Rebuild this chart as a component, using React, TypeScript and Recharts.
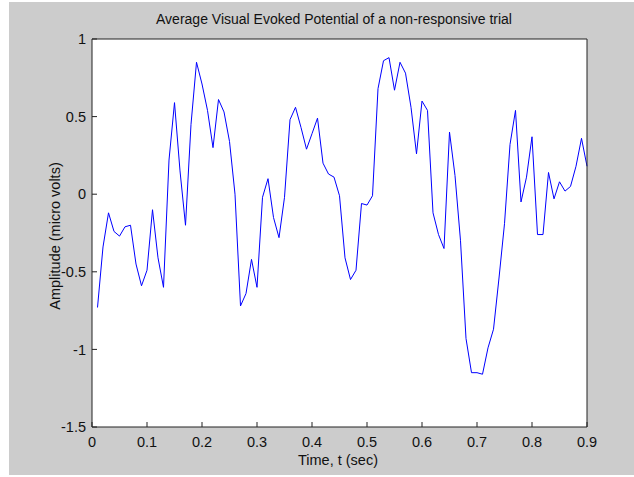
import { LineChart, Line, XAxis, YAxis, CartesianGrid } from 'recharts';

// Sample times (sec) and the averaged potential.
const TIME = [
  0.01, 0.02, 0.03, 0.04, 0.05, 0.06, 0.07, 0.08, 0.09, 0.1,
  0.11, 0.12, 0.13, 0.14, 0.15, 0.16, 0.17, 0.18, 0.19, 0.2,
  0.21, 0.22, 0.23, 0.24, 0.25, 0.26, 0.27, 0.28, 0.29, 0.3,
  0.31, 0.32, 0.33, 0.34, 0.35, 0.36, 0.37, 0.38, 0.39, 0.4,
  0.41, 0.42, 0.43, 0.44, 0.45, 0.46, 0.47, 0.48, 0.49, 0.5,
  0.51, 0.52, 0.53, 0.54, 0.55, 0.56, 0.57, 0.58, 0.59, 0.6,
  0.61, 0.62, 0.63, 0.64, 0.65, 0.66, 0.67, 0.68, 0.69, 0.7,
  0.71, 0.72, 0.73, 0.74, 0.75, 0.76, 0.77, 0.78, 0.79, 0.8,
  0.81, 0.82, 0.83, 0.84, 0.85, 0.86, 0.87, 0.88, 0.89, 0.9,
];

const AMPLITUDE = [
  -0.73, -0.34, -0.12, -0.24, -0.27, -0.21, -0.2, -0.45, -0.59, -0.49,
  -0.1, -0.41, -0.6, 0.22, 0.59, 0.15, -0.2, 0.45, 0.85, 0.71,
  0.54, 0.3, 0.61, 0.53, 0.34, 0.0, -0.72, -0.64, -0.42, -0.6,
  -0.02, 0.1, -0.15, -0.28, -0.02, 0.48, 0.56, 0.43, 0.29, 0.39,
  0.49, 0.2, 0.13, 0.11, -0.01, -0.41, -0.55, -0.49, -0.06, -0.07,
  -0.01, 0.68, 0.86, 0.88, 0.67, 0.85, 0.78, 0.56, 0.26, 0.6,
  0.54, -0.12, -0.26, -0.35, 0.4, 0.12, -0.3, -0.93, -1.15, -1.15,
  -1.16, -0.99, -0.87, -0.54, -0.19, 0.32, 0.54, -0.05, 0.11, 0.37,
  -0.26, -0.26, 0.14, -0.03, 0.08, 0.02, 0.05, 0.18, 0.36, 0.18,
];

const X_TICKS = [0, 0.1, 0.2, 0.3, 0.4, 0.5, 0.6, 0.7, 0.8, 0.9];
const Y_TICKS = [-1.5, -1, -0.5, 0, 0.5, 1];

const TITLE = 'Average Visual Evoked Potential of a non-responsive trial';
const X_LABEL = 'Time, t (sec)';
const Y_LABEL = 'Amplitude (micro volts)';

const FONT = '"Liberation Sans", Arial, Helvetica, sans-serif';
const AXIS = '#222';
const TEXT = '#111';

export default function App() {
  const data = TIME.map((t, i) => ({ t, v: AMPLITUDE[i] }));
  const tickStyle = { fontFamily: FONT, fontSize: 14.5, fill: TEXT };

  return (
    <div style={{ position: 'absolute', left: 0, top: 0, width: 634, height: 477, background: '#fff' }}>
      <div style={{ position: 'absolute', left: 9, top: 2, right: 0, bottom: 2, background: '#cccccc' }} />
      <div style={{ position: 'absolute', left: 0, top: 0 }}>
        <LineChart width={634} height={477} data={data} margin={{ top: 38, right: 46, bottom: 0, left: 0 }}>
          <CartesianGrid horizontal={false} vertical={false} fill="#fff" fillOpacity={1} xAxisId="b" yAxisId="l" />
          <XAxis
            xAxisId="b"
            dataKey="t"
            type="number"
            orientation="bottom"
            domain={[0, 0.9]}
            ticks={X_TICKS}
            height={50}
            tickSize={-5}
            tickMargin={15}
            stroke={AXIS}
            tick={tickStyle}
          />
          <XAxis
            xAxisId="t"
            type="number"
            orientation="top"
            domain={[0, 0.9]}
            ticks={X_TICKS}
            height={1}
            tickSize={-5}
            tick={false}
            stroke={AXIS}
          />
          <YAxis
            yAxisId="l"
            type="number"
            orientation="left"
            domain={[-1.5, 1]}
            ticks={Y_TICKS}
            width={92}
            tickSize={-5}
            tickMargin={11}
            stroke={AXIS}
            tick={tickStyle}
          />
          <YAxis
            yAxisId="r"
            type="number"
            orientation="right"
            domain={[-1.5, 1]}
            ticks={Y_TICKS}
            width={1}
            tickSize={-5}
            tick={false}
            stroke={AXIS}
          />
          <Line
            xAxisId="b"
            yAxisId="l"
            type="linear"
            dataKey="v"
            stroke="#0000ff"
            strokeWidth={1}
            dot={false}
            isAnimationActive={false}
          />
        </LineChart>
      </div>
      {/* title and axis titles, laid over the chart */}
      <svg width={634} height={477} style={{ position: 'absolute', left: 0, top: 0, pointerEvents: 'none' }}>
        <g fontFamily={FONT} fill={TEXT} textAnchor="middle">
          <text x={334} y={23.5} fontSize={14}>{TITLE}</text>
          <text x={338} y={465} fontSize={14.5}>{X_LABEL}</text>
          <text x={59.5} y={236} fontSize={14.5} transform="rotate(-90 59.5 236)">{Y_LABEL}</text>
        </g>
      </svg>
    </div>
  );
}
